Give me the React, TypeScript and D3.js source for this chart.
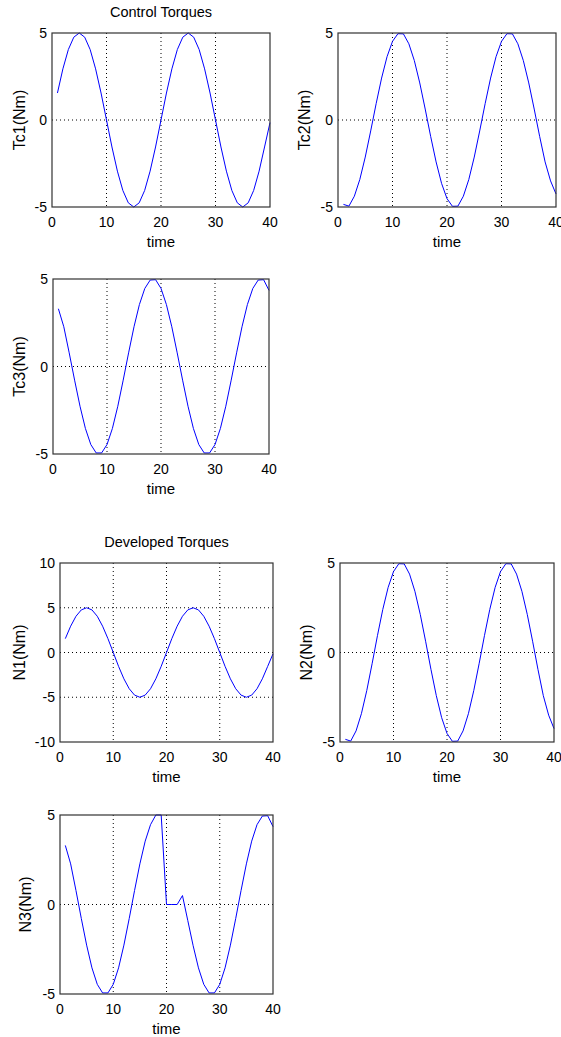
import React from "react";
import * as d3 from "d3";

const time = [1,2,3,4,5,6,7,8,9,10,11,12,13,14,15,16,17,18,19,20,21,22,23,24,25,26,27,28,29,30,31,32,33,34,35,36,37,38,39,40];

const tc1 = [1.55,2.94,4.05,4.76,5.0,4.76,4.05,2.94,1.55,0.0,-1.55,-2.94,-4.05,-4.76,-5.0,-4.76,-4.05,-2.94,-1.55,0.0,1.55,2.94,4.05,4.76,5.0,4.76,4.05,2.94,1.55,0.0,-1.55,-2.94,-4.05,-4.76,-5.0,-4.76,-4.05,-2.94,-1.55,-0.15];
const tc2 = [-4.85,-4.95,-4.38,-3.42,-2.13,-0.63,0.94,2.41,3.64,4.52,4.96,4.95,4.38,3.42,2.13,0.63,-0.94,-2.41,-3.64,-4.52,-4.96,-4.95,-4.38,-3.42,-2.13,-0.63,0.94,2.41,3.64,4.52,4.96,4.95,4.38,3.42,2.13,0.63,-0.94,-2.41,-3.5,-4.25];
const tc3 = [3.3,2.27,0.78,-0.78,-2.27,-3.54,-4.46,-4.94,-4.94,-4.46,-3.54,-2.27,-0.78,0.78,2.27,3.54,4.46,4.94,4.96,4.46,3.54,2.27,0.78,-0.78,-2.27,-3.54,-4.46,-4.94,-4.94,-4.46,-3.54,-2.27,-0.78,0.78,2.27,3.54,4.46,4.94,4.96,4.35];
const n1 = [1.55,2.94,4.05,4.76,5.0,4.76,4.05,2.94,1.55,0.0,-1.55,-2.94,-4.05,-4.76,-5.0,-4.76,-4.05,-2.94,-1.55,0.0,1.55,2.94,4.05,4.76,5.0,4.76,4.05,2.94,1.55,0.0,-1.55,-2.94,-4.05,-4.76,-5.0,-4.76,-4.05,-2.94,-1.55,-0.15];
const n2 = [-4.85,-4.95,-4.38,-3.42,-2.13,-0.63,0.94,2.41,3.64,4.52,4.96,4.95,4.38,3.42,2.13,0.63,-0.94,-2.41,-3.64,-4.52,-4.96,-4.95,-4.38,-3.42,-2.13,-0.63,0.94,2.41,3.64,4.52,4.96,4.95,4.38,3.42,2.13,0.63,-0.94,-2.41,-3.5,-4.25];
const n3 = [3.3,2.27,0.78,-0.78,-2.27,-3.54,-4.46,-4.94,-4.94,-4.46,-3.54,-2.27,-0.78,0.78,2.27,3.54,4.46,5.0,5.0,0.0,0.0,0.0,0.5,-0.9,-2.3,-3.54,-4.46,-4.94,-4.94,-4.46,-3.54,-2.27,-0.78,0.78,2.27,3.54,4.46,4.94,4.96,4.35];

const xTicks = [0, 10, 20, 30, 40];
const yTicks5 = [-5, 0, 5];
const yTicks10 = [-10, -5, 0, 5, 10];

const FONT = "'Liberation Sans', Arial, Helvetica, sans-serif";

type Panel = {
  x0: number; x1: number; y0: number; y1: number;
  values: number[]; yMax: number; yTicks: number[];
  label: string; labelOff: number; title?: string;
};

const panels: Panel[] = [
  { x0: 52, x1: 270, y0: 33, y1: 207, values: tc1, yMax: 5, yTicks: yTicks5, label: "Tc1(Nm)", labelOff: 27, title: "Control Torques" },
  { x0: 338, x1: 556, y0: 33, y1: 207, values: tc2, yMax: 5, yTicks: yTicks5, label: "Tc2(Nm)", labelOff: 28 },
  { x0: 53, x1: 269, y0: 279, y1: 454, values: tc3, yMax: 5, yTicks: yTicks5, label: "Tc3(Nm)", labelOff: 28 },
  { x0: 60, x1: 273, y0: 563, y1: 742, values: n1, yMax: 10, yTicks: yTicks10, label: "N1(Nm)", labelOff: 35, title: "Developed Torques" },
  { x0: 340, x1: 554, y0: 563, y1: 742, values: n2, yMax: 5, yTicks: yTicks5, label: "N2(Nm)", labelOff: 28 },
  { x0: 60, x1: 273, y0: 815, y1: 994, values: n3, yMax: 5, yTicks: yTicks5, label: "N3(Nm)", labelOff: 29 },
];

function PanelView({ p }: { p: Panel }) {
  const x = d3.scaleLinear().domain([0, 40]).range([p.x0, p.x1]);
  const y = d3.scaleLinear().domain([-p.yMax, p.yMax]).range([p.y1, p.y0]);
  const line = d3.line<number>().x((_, i) => x(time[i])).y((v) => y(v));
  const cx = (p.x0 + p.x1) / 2;
  const cy = (p.y0 + p.y1) / 2;
  return (
    <g>
      {xTicks.filter((t) => t > 0 && t < 40).map((t) => (
        <line key={"gx" + t} x1={x(t)} x2={x(t)} y1={p.y0} y2={p.y1} stroke="#000" strokeWidth={1} strokeDasharray="1,3" />
      ))}
      {p.yTicks.filter((t) => t > -p.yMax && t < p.yMax).map((t) => (
        <line key={"gy" + t} x1={p.x0} x2={p.x1} y1={y(t)} y2={y(t)} stroke="#000" strokeWidth={1} strokeDasharray="1,3" />
      ))}
      <path d={line(p.values) || ""} fill="none" stroke="#0000ff" strokeWidth={1} />
      <rect x={p.x0} y={p.y0} width={p.x1 - p.x0} height={p.y1 - p.y0} fill="none" stroke="#333" strokeWidth={1.2} />
      {xTicks.map((t) => (
        <text key={"xl" + t} x={x(t)} y={p.y1 + 20} textAnchor="middle" fontSize={14} fontFamily={FONT} fill="#000">{t}</text>
      ))}
      {p.yTicks.map((t) => (
        <text key={"yl" + t} x={p.x0 - 5} y={y(t) + 5} textAnchor="end" fontSize={14} fontFamily={FONT} fill="#000">{t}</text>
      ))}
      <text x={cx} y={p.y1 + 40} textAnchor="middle" fontSize={15} fontFamily={FONT} fill="#000">time</text>
      <text transform={`translate(${p.x0 - p.labelOff},${cy}) rotate(-90)`} textAnchor="middle" fontSize={16} fontFamily={FONT} fill="#000">{p.label}</text>
      {p.title && (
        <text x={cx} y={p.y0 - 16} textAnchor="middle" fontSize={14.5} fontFamily={FONT} fill="#000">{p.title}</text>
      )}
    </g>
  );
}

export default function App() {
  return (
    <svg width={561} height={1037} style={{ position: "absolute", left: 0, top: 0, background: "#fff" }}>
      <rect x={0} y={0} width={561} height={1037} fill="#fff" />
      {panels.map((p, i) => (
        <PanelView key={i} p={p} />
      ))}
    </svg>
  );
}
